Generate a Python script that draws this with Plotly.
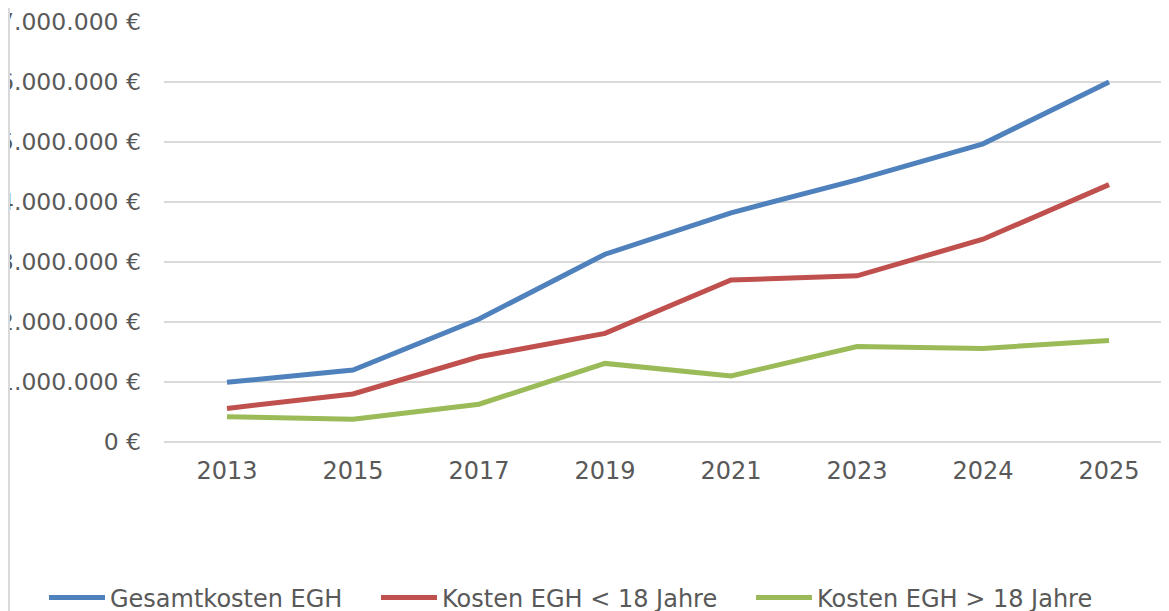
import plotly.graph_objects as go

years = ["2013", "2015", "2017", "2019", "2021", "2023", "2024", "2025"]
gesamt = [995000, 1200000, 2050000, 3130000, 3820000, 4370000, 4970000, 6000000]
unter18 = [560000, 800000, 1420000, 1810000, 2700000, 2770000, 3380000, 4290000]
ueber18 = [420000, 380000, 630000, 1310000, 1100000, 1590000, 1560000, 1690000]

series_names = ["Gesamtkosten EGH", "Kosten EGH < 18 Jahre", "Kosten EGH > 18 Jahre"]
series_colors = ["#4F81BD", "#C0504D", "#9BBB59"]
legend_widths = [261, 304, None]

y_ticks = [0, 1000000, 2000000, 3000000, 4000000, 5000000, 6000000, 7000000]
y_labels = ["0 €", "1.000.000 €", "2.000.000 €", "3.000.000 €", "4.000.000 €",
            "5.000.000 €", "6.000.000 €", "7.000.000 €"]

FONT = "DejaVu Sans"
TXT = "#595959"

W, H = 1161, 603
L, R, T, B = 156, 0, 14, 169
PW, PH = W - L - R, H - T - B

fig = go.Figure()
for name, vals, col, lw in zip(series_names, [gesamt, unter18, ueber18], series_colors, legend_widths):
    tr = go.Scatter(x=years, y=vals, mode="lines", name=name,
                    line=dict(color=col, width=5))
    if lw is not None:
        tr.legendwidth = lw
    fig.add_trace(tr)

fig.update_layout(
    width=W, height=H,
    margin=dict(l=L, r=R, t=T, b=B, autoexpand=False),
    paper_bgcolor="white", plot_bgcolor="white",
    font=dict(family=FONT, size=24, color=TXT),
    showlegend=True,
    legend=dict(orientation="h", xref="paper", yref="paper",
                x=(36 - L) / PW, xanchor="left",
                y=(PH + T - 590) / PH, yanchor="middle",
                font=dict(family=FONT, size=24, color=TXT),
                itemwidth=56, tracegroupgap=0),
)
fig.update_xaxes(type="category", range=[-0.5, 7.476], showgrid=False,
                 showline=False, zeroline=False, ticks="", automargin=False,
                 ticklabelstandoff=12, tickfont=dict(size=24, color=TXT))
fig.update_yaxes(range=[0, 7000000], tickvals=y_ticks, ticktext=y_labels,
                 showgrid=True, gridcolor="#D9D9D9", gridwidth=1.5,
                 zeroline=True, zerolinecolor="#D9D9D9", zerolinewidth=1.5,
                 showline=False, ticks="", ticklabelstandoff=22, automargin=False,
                 ticklabeloverflow="allow",
                 tickfont=dict(size=23.5, color=TXT))

# left frame edge of the original
fig.add_shape(type="line", xref="paper", yref="paper", x0=(1 - L) / PW, x1=(1 - L) / PW,
              y0=-B / PH, y1=1 + T / PH, line=dict(color="#D9D9D9", width=2),
              layer="above")

fig.write_html("out.html")
